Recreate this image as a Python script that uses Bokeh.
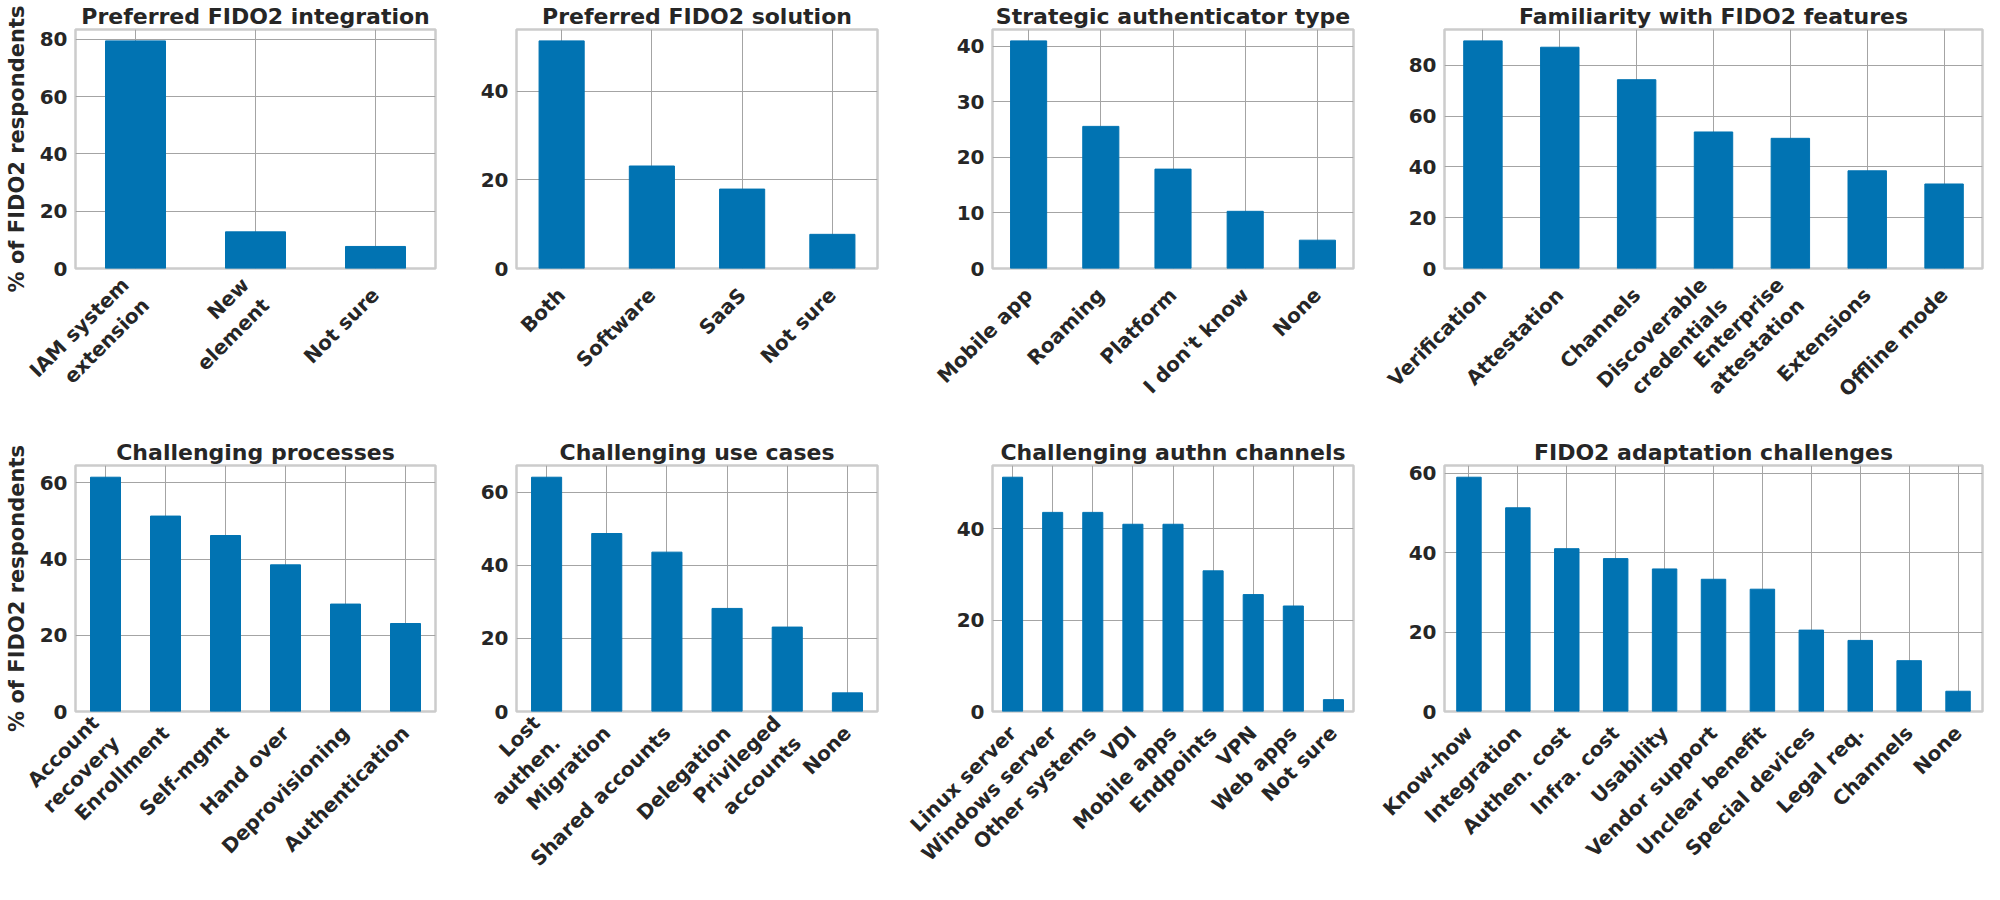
import math
from bokeh.plotting import figure
from bokeh.models import FactorRange, Range1d, FixedTicker
from bokeh.layouts import column, row
from bokeh.embed import file_html
from bokeh.resources import INLINE

# ---------------- data ----------------
integration_cats = ["IAM system\nextension", "New\nelement", "Not sure"]
integration_vals = [79.5, 12.8, 7.7]

solution_cats = ["Both", "Software", "SaaS", "Not sure"]
solution_vals = [51.3, 23.1, 17.9, 7.7]

authtype_cats = ["Mobile app", "Roaming", "Platform", "I don't know", "None"]
authtype_vals = [41.0, 25.6, 17.9, 10.3, 5.1]

features_cats = ["Verification", "Attestation", "Channels", "Discoverable\ncredentials",
                 "Enterprise\nattestation", "Extensions", "Offline mode"]
features_vals = [89.7, 87.2, 74.4, 53.8, 51.3, 38.5, 33.3]

process_cats = ["Account\nrecovery", "Enrollment", "Self-mgmt", "Hand over",
                "Deprovisioning", "Authentication"]
process_vals = [61.5, 51.3, 46.2, 38.5, 28.2, 23.1]

usecase_cats = ["Lost\nauthen.", "Migration", "Shared accounts", "Delegation",
                "Privileged\naccounts", "None"]
usecase_vals = [64.1, 48.7, 43.6, 28.2, 23.1, 5.1]

channel_cats = ["Linux server", "Windows server", "Other systems", "VDI", "Mobile apps",
                "Endpoints", "VPN", "Web apps", "Not sure"]
channel_vals = [51.3, 43.6, 43.6, 41.0, 41.0, 30.8, 25.6, 23.1, 2.6]

challenge_cats = ["Know-how", "Integration", "Authen. cost", "Infra. cost", "Usability",
                  "Vendor support", "Unclear benefit", "Special devices", "Legal req.",
                  "Channels", "None"]
challenge_vals = [59.0, 51.3, 41.0, 38.5, 35.9, 33.3, 30.8, 20.5, 17.9, 12.8, 5.1]

titles = ["Preferred FIDO2 integration", "Preferred FIDO2 solution",
          "Strategic authenticator type", "Familiarity with FIDO2 features",
          "Challenging processes", "Challenging use cases",
          "Challenging authn channels", "FIDO2 adaptation challenges"]

y_ticks = [[0, 20, 40, 60, 80], [0, 20, 40], [0, 10, 20, 30, 40], [0, 20, 40, 60, 80],
           [0, 20, 40, 60], [0, 20, 40, 60], [0, 20, 40], [0, 20, 40, 60]]

y_label = "% of FIDO2 respondents"

panels_cats = [integration_cats, solution_cats, authtype_cats, features_cats,
               process_cats, usecase_cats, channel_cats, challenge_cats]
panels_vals = [integration_vals, solution_vals, authtype_vals, features_vals,
               process_vals, usecase_vals, channel_vals, challenge_vals]

# ---------------- layout / style ----------------
BAR = "#0173b2"
TXT = "#262626"
FONT = "DejaVu Sans"

col_widths = [438, 442, 476, 628]
col_left = [75, 78, 112, 88]
col_right = [3, 3, 3, 2]
row_heights = [436, 448]
row_top = [22, 29]
row_bottom = [168, 173]
x_standoff = [23, 18]


def make_panel(i):
    r, c = divmod(i, 4)
    cats = panels_cats[i]
    vals = panels_vals[i]
    p = figure(x_range=FactorRange(*cats, range_padding=0),
               y_range=Range1d(0, max(vals) * 1.05),
               width=col_widths[c], height=row_heights[r],
               min_border_left=col_left[c], min_border_right=col_right[c],
               min_border_top=row_top[r], min_border_bottom=row_bottom[r],
               output_backend="svg", toolbar_location=None, title=titles[i])
    p.vbar(x=cats, top=vals, width=0.5, fill_color=BAR, line_color=BAR, line_width=1)

    p.title.text_font = FONT
    p.title.text_font_size = "22px"
    p.title.text_font_style = "bold"
    p.title.text_color = TXT
    p.title.align = "center"
    p.title.standoff = 2
    p.title.offset = 0

    p.outline_line_color = "#cccccc"
    p.outline_line_width = 2.5
    p.background_fill_color = "white"
    p.border_fill_color = "white"

    for g in (p.xgrid, p.ygrid):
        g.grid_line_color = "#a4a4a4"
        g.grid_line_width = 1

    p.yaxis.ticker = FixedTicker(ticks=y_ticks[i])
    for ax in (p.xaxis, p.yaxis):
        ax.axis_line_color = None
        ax.major_tick_line_color = None
        ax.minor_tick_line_color = None
        ax.major_tick_out = 0
        ax.major_tick_in = 0
        ax.minor_tick_out = 0
        ax.minor_tick_in = 0
        ax.major_label_text_font = FONT
        ax.major_label_text_font_size = "20px"
        ax.major_label_text_font_style = "bold"
        ax.major_label_text_color = TXT
    p.yaxis.major_label_standoff = 8
    p.xaxis.major_label_orientation = math.pi / 4
    p.xaxis.major_label_standoff = x_standoff[r]

    if c == 0:
        p.yaxis.axis_label = y_label
        p.yaxis.axis_label_text_font = FONT
        p.yaxis.axis_label_text_font_size = "21px"
        p.yaxis.axis_label_text_font_style = "bold"
        p.yaxis.axis_label_text_color = TXT
        p.yaxis.axis_label_standoff = 8
    return p


figs = [make_panel(i) for i in range(8)]
layout = column(row(*figs[:4]), row(*figs[4:]))

open("out.html", "w").write(file_html(layout, INLINE))
